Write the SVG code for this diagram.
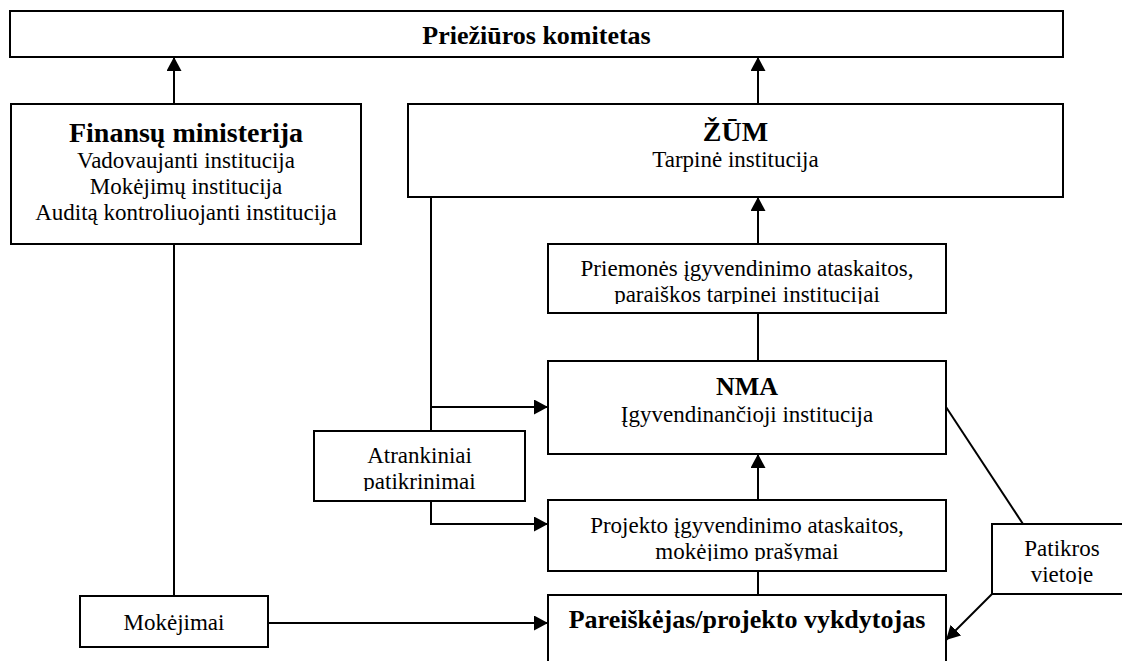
<svg xmlns="http://www.w3.org/2000/svg" width="1122" height="661" viewBox="0 0 1122 661">
<style>
.box{fill:#fff;stroke:#000;stroke-width:2}
.ln{fill:none;stroke:#000;stroke-width:2}
.arr{marker-end:url(#ah)}
text{font-family:"Liberation Serif","Times New Roman",serif;fill:#000;text-anchor:middle}
.r{font-size:23px}
.b{font-weight:bold}
</style>
<defs>
<marker id="ah" markerUnits="userSpaceOnUse" markerWidth="14" markerHeight="15" refX="14" refY="7.5" orient="auto">
<path d="M0,0 L14,7.5 L0,15 Z" fill="#000"/>
</marker>
<clipPath id="cPriem"><rect x="548" y="244" width="398" height="60"/></clipPath>
<clipPath id="cAtr"><rect x="314" y="431" width="211" height="60"/></clipPath>
<clipPath id="cProj"><rect x="548" y="500" width="398" height="61"/></clipPath>
<clipPath id="cPat"><rect x="992" y="524" width="140" height="60"/></clipPath>
</defs>
<rect width="1122" height="661" fill="#fff"/>

<g id="connectors">
<line class="ln arr" x1="174" y1="104" x2="174" y2="57"/>
<line class="ln arr" x1="758" y1="104" x2="758" y2="57"/>
<line class="ln arr" x1="758" y1="244" x2="758" y2="197"/>
<line class="ln" x1="758" y1="361" x2="758" y2="313"/>
<line class="ln arr" x1="758" y1="500" x2="758" y2="454"/>
<line class="ln" x1="758" y1="595" x2="758" y2="571"/>
<line class="ln" x1="431" y1="197" x2="431" y2="431"/>
<line class="ln arr" x1="431" y1="407" x2="548" y2="407"/>
<polyline class="ln arr" points="431,501 431,524 548,524"/>
<line class="ln" x1="174" y1="244" x2="174" y2="596"/>
<line class="ln arr" x1="268" y1="623" x2="548" y2="623"/>
<line class="ln" x1="946" y1="407" x2="1023" y2="524"/>
<line class="ln arr" x1="992" y1="594" x2="946" y2="640"/>
</g>

<g id="prieziuros">
<rect class="box" x="10" y="11" width="1053" height="46"/>
<text class="b" x="536.5" y="44" font-size="26">Priežiūros komitetas</text>
</g>

<g id="finansu">
<rect class="box" x="11" y="104" width="350" height="140"/>
<text class="b" x="186" y="142" font-size="28">Finansų ministerija</text>
<text class="r" x="186" y="168">Vadovaujanti institucija</text>
<text class="r" x="186" y="194">Mokėjimų institucija</text>
<text class="r" x="186" y="220">Auditą kontroliuojanti institucija</text>
</g>

<g id="zum">
<rect class="box" x="408" y="104" width="655" height="93"/>
<text class="b" x="735.5" y="141" font-size="28">ŽŪM</text>
<text class="r" x="735.5" y="167">Tarpinė institucija</text>
</g>

<g id="priemones">
<rect class="box" x="548" y="244" width="398" height="69"/>
<g clip-path="url(#cPriem)">
<text class="r" x="747" y="276">Priemonės įgyvendinimo ataskaitos,</text>
<text class="r" x="747" y="302">paraiškos tarpinei institucijai</text>
</g>
</g>

<g id="nma">
<rect class="box" x="548" y="361" width="398" height="93"/>
<text class="b" x="747" y="395" font-size="26">NMA</text>
<text class="r" x="747" y="422">Įgyvendinančioji institucija</text>
</g>

<g id="atrankiniai">
<rect class="box" x="314" y="431" width="211" height="70"/>
<g clip-path="url(#cAtr)">
<text class="r" x="419.5" y="463">Atrankiniai</text>
<text class="r" x="419.5" y="489">patikrinimai</text>
</g>
</g>

<g id="projekto">
<rect class="box" x="548" y="500" width="398" height="71"/>
<g clip-path="url(#cProj)">
<text class="r" x="747" y="533">Projekto įgyvendinimo ataskaitos,</text>
<text class="r" x="747" y="559">mokėjimo prašymai</text>
</g>
</g>

<g id="pareiskejas">
<rect class="box" x="548" y="595" width="398" height="90"/>
<text class="b" x="747" y="628" font-size="26">Pareiškėjas/projekto vykdytojas</text>
</g>

<g id="mokejimai">
<rect class="box" x="80" y="596" width="188" height="51"/>
<text class="r" x="174" y="630">Mokėjimai</text>
</g>

<g id="patikros">
<rect class="box" x="992" y="524" width="140" height="70"/>
<g clip-path="url(#cPat)">
<text class="r" x="1062" y="556">Patikros</text>
<text class="r" x="1062" y="582">vietoje</text>
</g>
</g>
</svg>
